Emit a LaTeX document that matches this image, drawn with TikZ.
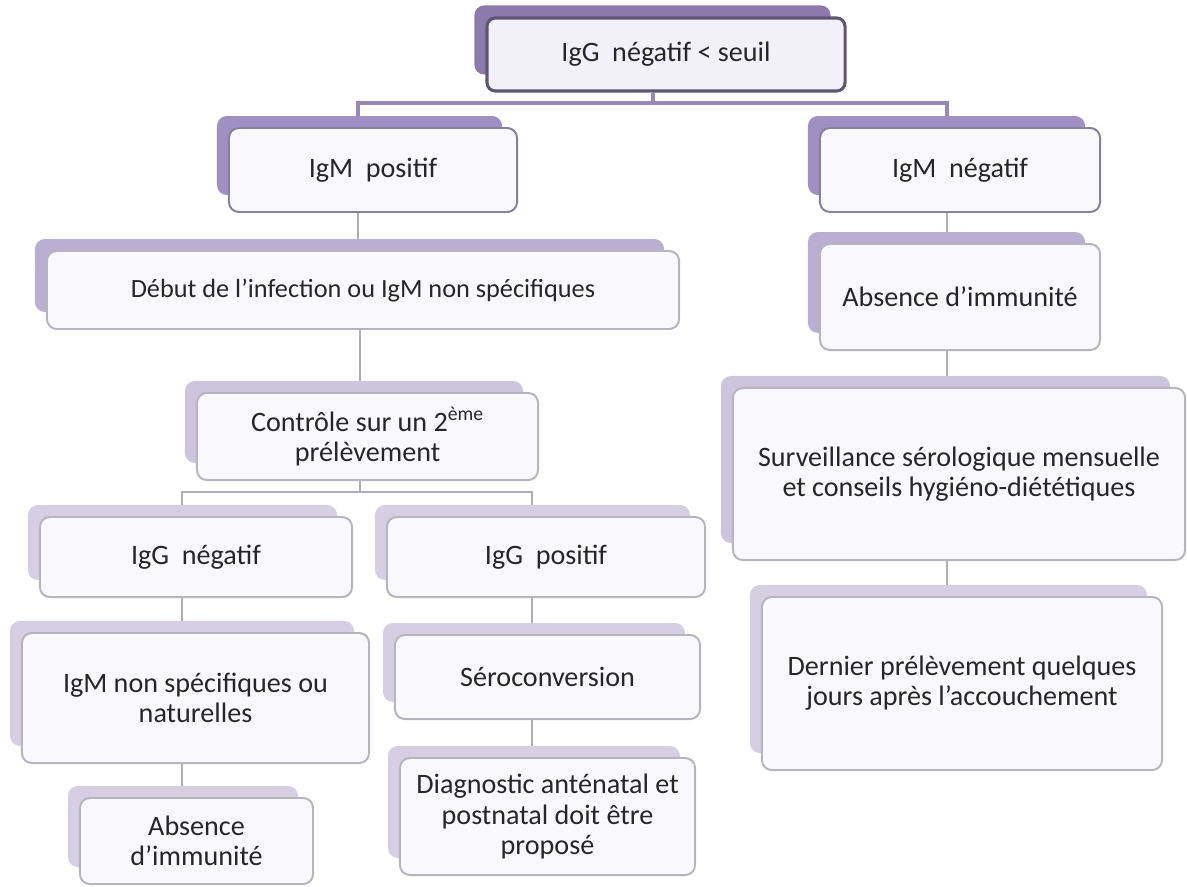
\documentclass[tikz,border=0pt]{standalone}
\usepackage{fontspec}
\setmainfont{Carlito}
\usetikzlibrary{calc,backgrounds}

\definecolor{tabA}{RGB}{140,122,174}
\definecolor{tabB}{RGB}{159,143,194}
\definecolor{tabC}{RGB}{186,175,211}
\definecolor{tabD}{RGB}{205,197,222}
\definecolor{tabE}{RGB}{214,207,228}
\definecolor{frameA}{RGB}{95,86,114}
\definecolor{frameB}{RGB}{134,128,154}
\definecolor{frameC}{RGB}{182,180,188}
\definecolor{frontA}{RGB}{242,240,248}
\definecolor{frontC}{RGB}{249,248,252}
\definecolor{linkA}{RGB}{152,136,186}
\definecolor{linkC}{RGB}{176,172,184}
\definecolor{inkC}{RGB}{38,38,38}

\begin{document}
\begin{tikzpicture}[x=0.025cm,y=-0.025cm]
\tikzstyle{box}=[draw=frameC,fill=frontC,text=inkC,line width=1.4pt,rounded corners=7pt,align=center,inner sep=0pt,font=\fontsize{20}{21.5}\selectfont]
\tikzstyle{topbox}=[box,draw=frameA,fill=frontA,line width=2.2pt,rounded corners=6pt]
\tikzstyle{midbox}=[box,draw=frameB]
\tikzstyle{link}=[draw=linkC,line width=1.6pt]
\tikzstyle{toplink}=[draw=linkA,line width=2.2pt]

\useasboundingbox (0,0) rectangle (1187,886);

% columns of the connectors
\coordinate (jA) at (653,103);
\coordinate (jAl) at (358,103);
\coordinate (jAr) at (947,103);
\coordinate (jB) at (360,492);
\coordinate (jBl) at (182,492);
\coordinate (jBr) at (532,492);

\node[topbox,minimum width=8.95cm,minimum height=1.825cm] (top) at (666,54.5) {IgG~ négatif < seuil};

\node[midbox,minimum width=7.2cm,minimum height=2.1cm] (ipos) at (373,170) {IgM~ positif};
\node[midbox,minimum width=7.0cm,minimum height=2.1cm] (ineg) at (960,170) {IgM~ négatif};

\node[box,minimum width=15.8cm,minimum height=1.95cm,font=\fontsize{18.7}{21.5}\selectfont] (debut) at (363,290) {Début de l’infection ou IgM non spécifiques};
\node[box,minimum width=7.0cm,minimum height=2.65cm] (absR) at (960,297) {Absence d’immunité};

\node[box,minimum width=8.525cm,minimum height=2.175cm] (controle) at (367.5,436.5) {Contrôle sur un 2\textsuperscript{ème}\\prélèvement};
\node[box,minimum width=11.3cm,minimum height=4.3cm] (surv) at (959,474) {Surveillance sérologique mensuelle\\et conseils hygiéno-diététiques};

\node[box,minimum width=7.8cm,minimum height=2.0cm] (igneg) at (196,557) {IgG~ négatif};
\node[box,minimum width=7.95cm,minimum height=2.0cm] (igpos) at (546,557) {IgG~ positif};
\node[box,minimum width=10cm,minimum height=4.325cm] (dernier) at (962,683.5) {Dernier prélèvement quelques\\jours après l’accouchement};

\node[box,minimum width=8.675cm,minimum height=3.25cm] (nonspec) at (195.5,698) {IgM non spécifiques ou\\naturelles};
\node[box,minimum width=7.625cm,minimum height=2.1cm] (sero) at (547.5,677) {Séroconversion};

\node[box,minimum width=5.825cm,minimum height=2.15cm] (absL) at (196.5,841) {Absence\\d’immunité};
\node[box,minimum width=7.375cm,minimum height=2.925cm] (diag) at (547.5,816.5) {Diagnostic anténatal et\\postnatal doit être\\proposé};

\begin{scope}[on background layer]
% connectors
\draw[toplink] (top.south -| jA) -- (jA);
\draw[toplink] (ipos.north -| jAl) |- (jAr) -- (ineg.north -| jAr);
\draw[link] (ipos.south -| jAl) -- (debut.north -| jAl);
\draw[link] (debut.south -| jB) -- (controle.north -| jB);
\draw[link] (controle.south -| jB) -- (jB);
\draw[link] (igneg.north -| jBl) |- (jBr) -- (igpos.north -| jBr);
\draw[link] (igneg.south -| jBl) -- (nonspec.north -| jBl);
\draw[link] (nonspec.south -| jBl) -- (absL.north -| jBl);
\draw[link] (igpos.south -| jBr) -- (sero.north -| jBr);
\draw[link] (sero.south -| jBr) -- (diag.north -| jBr);
\draw[link] (ineg.south -| jAr) -- (absR.north -| jAr);
\draw[link] (absR.south -| jAr) -- (surv.north -| jAr);
\draw[link] (surv.south -| jAr) -- (dernier.north -| jAr);
% tabs behind the boxes
\foreach \n/\c in {top/tabA,ipos/tabB,ineg/tabB,debut/tabC,absR/tabC,controle/tabD,surv/tabD,
                   igneg/tabE,igpos/tabE,dernier/tabE,nonspec/tabE,sero/tabE,absL/tabE,diag/tabE}
  \fill[\c,rounded corners=7pt] ($(\n.north west)+(-11,-11)$) rectangle ($(\n.south east)+(-16,-18)$);
\end{scope}
\end{tikzpicture}
\end{document}
